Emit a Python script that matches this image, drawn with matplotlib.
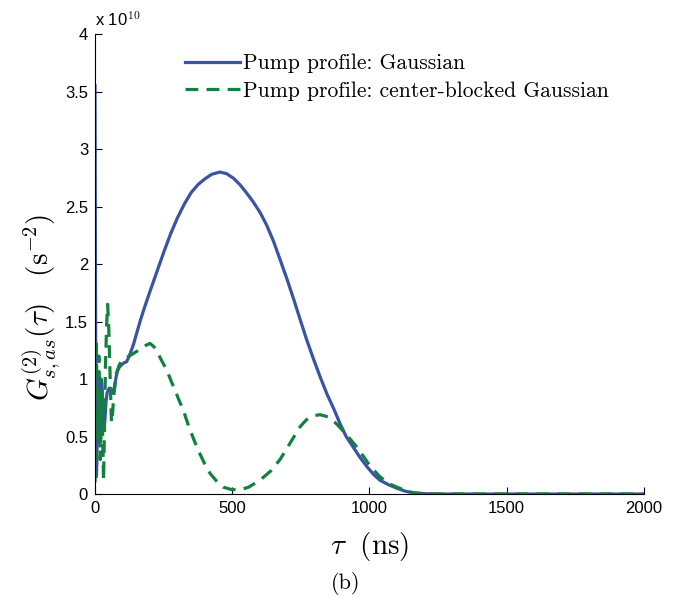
import matplotlib
matplotlib.use("Agg")
import matplotlib.pyplot as plt
import numpy as np

plt.rcParams['mathtext.fontset'] = 'cm'
plt.rcParams['font.family'] = ['Liberation Sans', 'DejaVu Sans']

# tau (ns) and G2 (units of 1e10 s^-2)
tau_gauss = [0, 1, 2, 3, 5, 7, 9, 11, 13, 15, 17, 19, 22, 25, 28, 31, 34, 37,
             40, 44, 48, 52, 56, 60, 64, 68, 72, 77, 82, 88, 95, 105, 115, 125,
             140, 152, 164, 180, 200, 225, 250, 275, 300, 325, 350, 375, 400,
             425, 455, 480, 505, 528, 550, 575, 601, 625, 650, 674, 700, 725,
             747, 770, 795, 820, 845, 870, 893, 915, 940, 965, 990, 1015, 1038,
             1070, 1100, 1130, 1160, 1200, 1250, 1500, 2000]
g2_gauss = [3.55, 2.6, 1.6, 0.8, 0.15, 0.3, 0.7, 1.0, 1.05, 0.8, 0.45, 0.55,
            1.0, 0.95, 0.75, 0.62, 0.6, 0.68, 0.8, 0.88, 0.9, 0.92, 0.92, 0.9,
            0.88, 0.9, 0.95, 1.02, 1.07, 1.1, 1.12, 1.14, 1.15, 1.2, 1.3, 1.4,
            1.5, 1.62, 1.76, 1.93, 2.1, 2.26, 2.4, 2.52, 2.62, 2.69, 2.74, 2.78,
            2.80, 2.785, 2.745, 2.69, 2.625, 2.545, 2.45, 2.34, 2.2, 2.04,
            1.865, 1.685, 1.52, 1.35, 1.18, 1.02, 0.87, 0.74, 0.61, 0.5, 0.41,
            0.32, 0.24, 0.17, 0.12, 0.08, 0.05, 0.025, 0.01, 0.003, 0.0, 0.0,
            0.0]

tau_blocked = [0, 2, 4, 6, 9, 12, 14, 16, 19, 22, 25, 28, 31, 34, 38, 42, 46,
               50, 53, 57, 60, 64, 68, 73, 78, 88, 100, 125, 152, 175, 200, 215,
               230, 245, 261, 276, 292, 307, 322, 334, 346, 364, 382, 400, 419,
               440, 467, 495, 528, 560, 601, 640, 674, 710, 747, 770, 795, 820,
               850, 880, 915, 953, 980, 1000, 1038, 1070, 1100, 1130, 1160,
               1200, 1250, 1500, 2000]
g2_blocked = [0.1, 0.8, 1.35, 1.1, 0.5, 0.9, 1.2, 0.9, 0.3, 0.6, 0.9, 0.5,
              0.12, 0.5, 1.1, 1.45, 1.65, 1.45, 1.2, 0.85, 0.62, 0.7, 0.85,
              0.95, 1.05, 1.12, 1.17, 1.2, 1.24, 1.28, 1.31, 1.28, 1.22, 1.15,
              1.08, 0.99, 0.9, 0.81, 0.73, 0.64, 0.56, 0.45, 0.35, 0.26, 0.18,
              0.12, 0.06, 0.04, 0.035, 0.06, 0.12, 0.2, 0.3, 0.44, 0.585, 0.645,
              0.68, 0.69, 0.67, 0.61, 0.52, 0.41, 0.32, 0.25, 0.15, 0.09, 0.06,
              0.03, 0.01, 0.003, 0.0, 0.0, 0.0]

series_labels = ['Pump profile: Gaussian',
                 'Pump profile: center-blocked Gaussian']

fig = plt.figure(figsize=(6.92, 5.97), dpi=100)
ax = fig.add_axes([0.1373, 0.1725, 0.7933, 0.7705])

ax.plot(tau_gauss, g2_gauss, color='#3a53a4', lw=2.3, label=series_labels[0])
ax.plot(tau_blocked, g2_blocked, color='#13803f', lw=2.3, ls=(0, (4, 2.6)),
        label=series_labels[1])

ax.set_xlim(0, 2000)
ax.set_ylim(0, 4)
ax.set_xticks([0, 500, 1000, 1500, 2000])
ax.set_yticks(np.arange(0, 4.01, 0.5))
ax.set_yticklabels(['0', '0.5', '1', '1.5', '2', '2.5', '3', '3.5', '4'])
ax.tick_params(direction='in', length=5, labelsize=12, pad=5)
ax.spines['top'].set_visible(False)
ax.spines['right'].set_visible(False)

ax.text(0, 1.01, r'x 10$^{10}$', transform=ax.transAxes, fontsize=12,
        ha='left', va='bottom')

ax.set_xlabel(r'$\tau\ \ (\mathrm{ns})$', fontsize=21, labelpad=10)
ax.set_ylabel(r'$G^{(2)}_{s,as}(\tau)\quad (\mathrm{s}^{-2})$', fontsize=21)
ax.yaxis.set_label_coords(-0.06, 0.405)
fig.text(0.5, 0.022, '(b)', ha='center', va='center', fontsize=16,
         family='cmr10')

ax.legend(loc='upper left', bbox_to_anchor=(0.129, 0.999), frameon=False,
          prop={'family': 'cmr10', 'size': 15.5}, handlelength=2.55,
          handletextpad=0.15, labelspacing=0.36)

fig.savefig('out.png', dpi=100)
